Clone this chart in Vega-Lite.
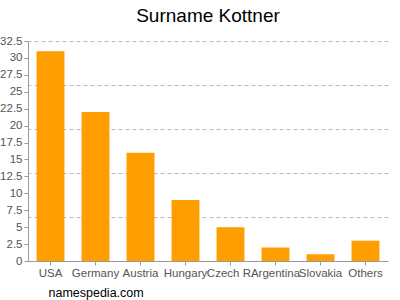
{
  "$schema": "https://vega.github.io/schema/vega-lite/v6.json",
  "width": 360,
  "height": 220,
  "autosize": {"type": "none"},
  "padding": {"left": 28, "top": 41, "right": 12, "bottom": 39},
  "background": "white",
  "title": {"text": "Surname Kottner", "fontSize": 19, "font": "Liberation Sans", "fontWeight": "normal", "color": "#000", "offset": 9, "anchor": "middle"},
  "config": {"view": {"stroke": null}, "font": "Liberation Sans"},
  "data": {"values": [
    {"country": "USA", "count": 31},
    {"country": "Germany", "count": 22},
    {"country": "Austria", "count": 16},
    {"country": "Hungary", "count": 9},
    {"country": "Czech R.", "count": 5},
    {"country": "Argentina", "count": 2},
    {"country": "Slovakia", "count": 1},
    {"country": "Others", "count": 3}
  ]},
  "encoding": {
    "x": {"field": "country", "type": "nominal", "sort": null,
      "scale": {"paddingInner": 0.38, "paddingOuter": 0.19},
      "axis": {"title": "namespedia.com", "titleAnchor": "start", "titleX": 20, "titleY": 25, "titleBaseline": "top", "titleFontSize": 12.5, "titleFontWeight": "normal", "titleColor": "#000", "labelAngle": 0, "labelColor": "#555", "labelFontSize": 11.5, "labelPadding": 2, "domainColor": "#999", "tickColor": "#999", "tickSize": 4, "labelOverlap": false, "labelBound": false}}
  },
  "layer": [
    {
      "mark": {"type": "bar", "color": "#ff9e00"},
      "encoding": {
        "y": {"field": "count", "type": "quantitative", "scale": {"domain": [0, 32.5], "nice": false},
          "axis": {"title": null, "values": [0, 2.5, 5, 7.5, 10, 12.5, 15, 17.5, 20, 22.5, 25, 27.5, 30, 32.5], "labelExpr": "'' + datum.value", "grid": false, "labelColor": "#555", "labelFontSize": 11.5, "domainColor": "#999", "tickColor": "#999", "tickSize": 4, "labelPadding": 2}}
      }
    },
    {
      "mark": {"type": "bar", "opacity": 0},
      "encoding": {
        "y": {"field": "count", "type": "quantitative", "scale": {"domain": [0, 32.5], "nice": false},
          "axis": {"title": null, "orient": "right", "values": [6.5, 13, 19.5, 26, 32.5], "grid": true, "gridDash": [4, 3], "gridColor": "#bbb", "labels": false, "ticks": false, "domain": false}}
      }
    }
  ],
  "resolve": {"axis": {"y": "independent"}}
}
